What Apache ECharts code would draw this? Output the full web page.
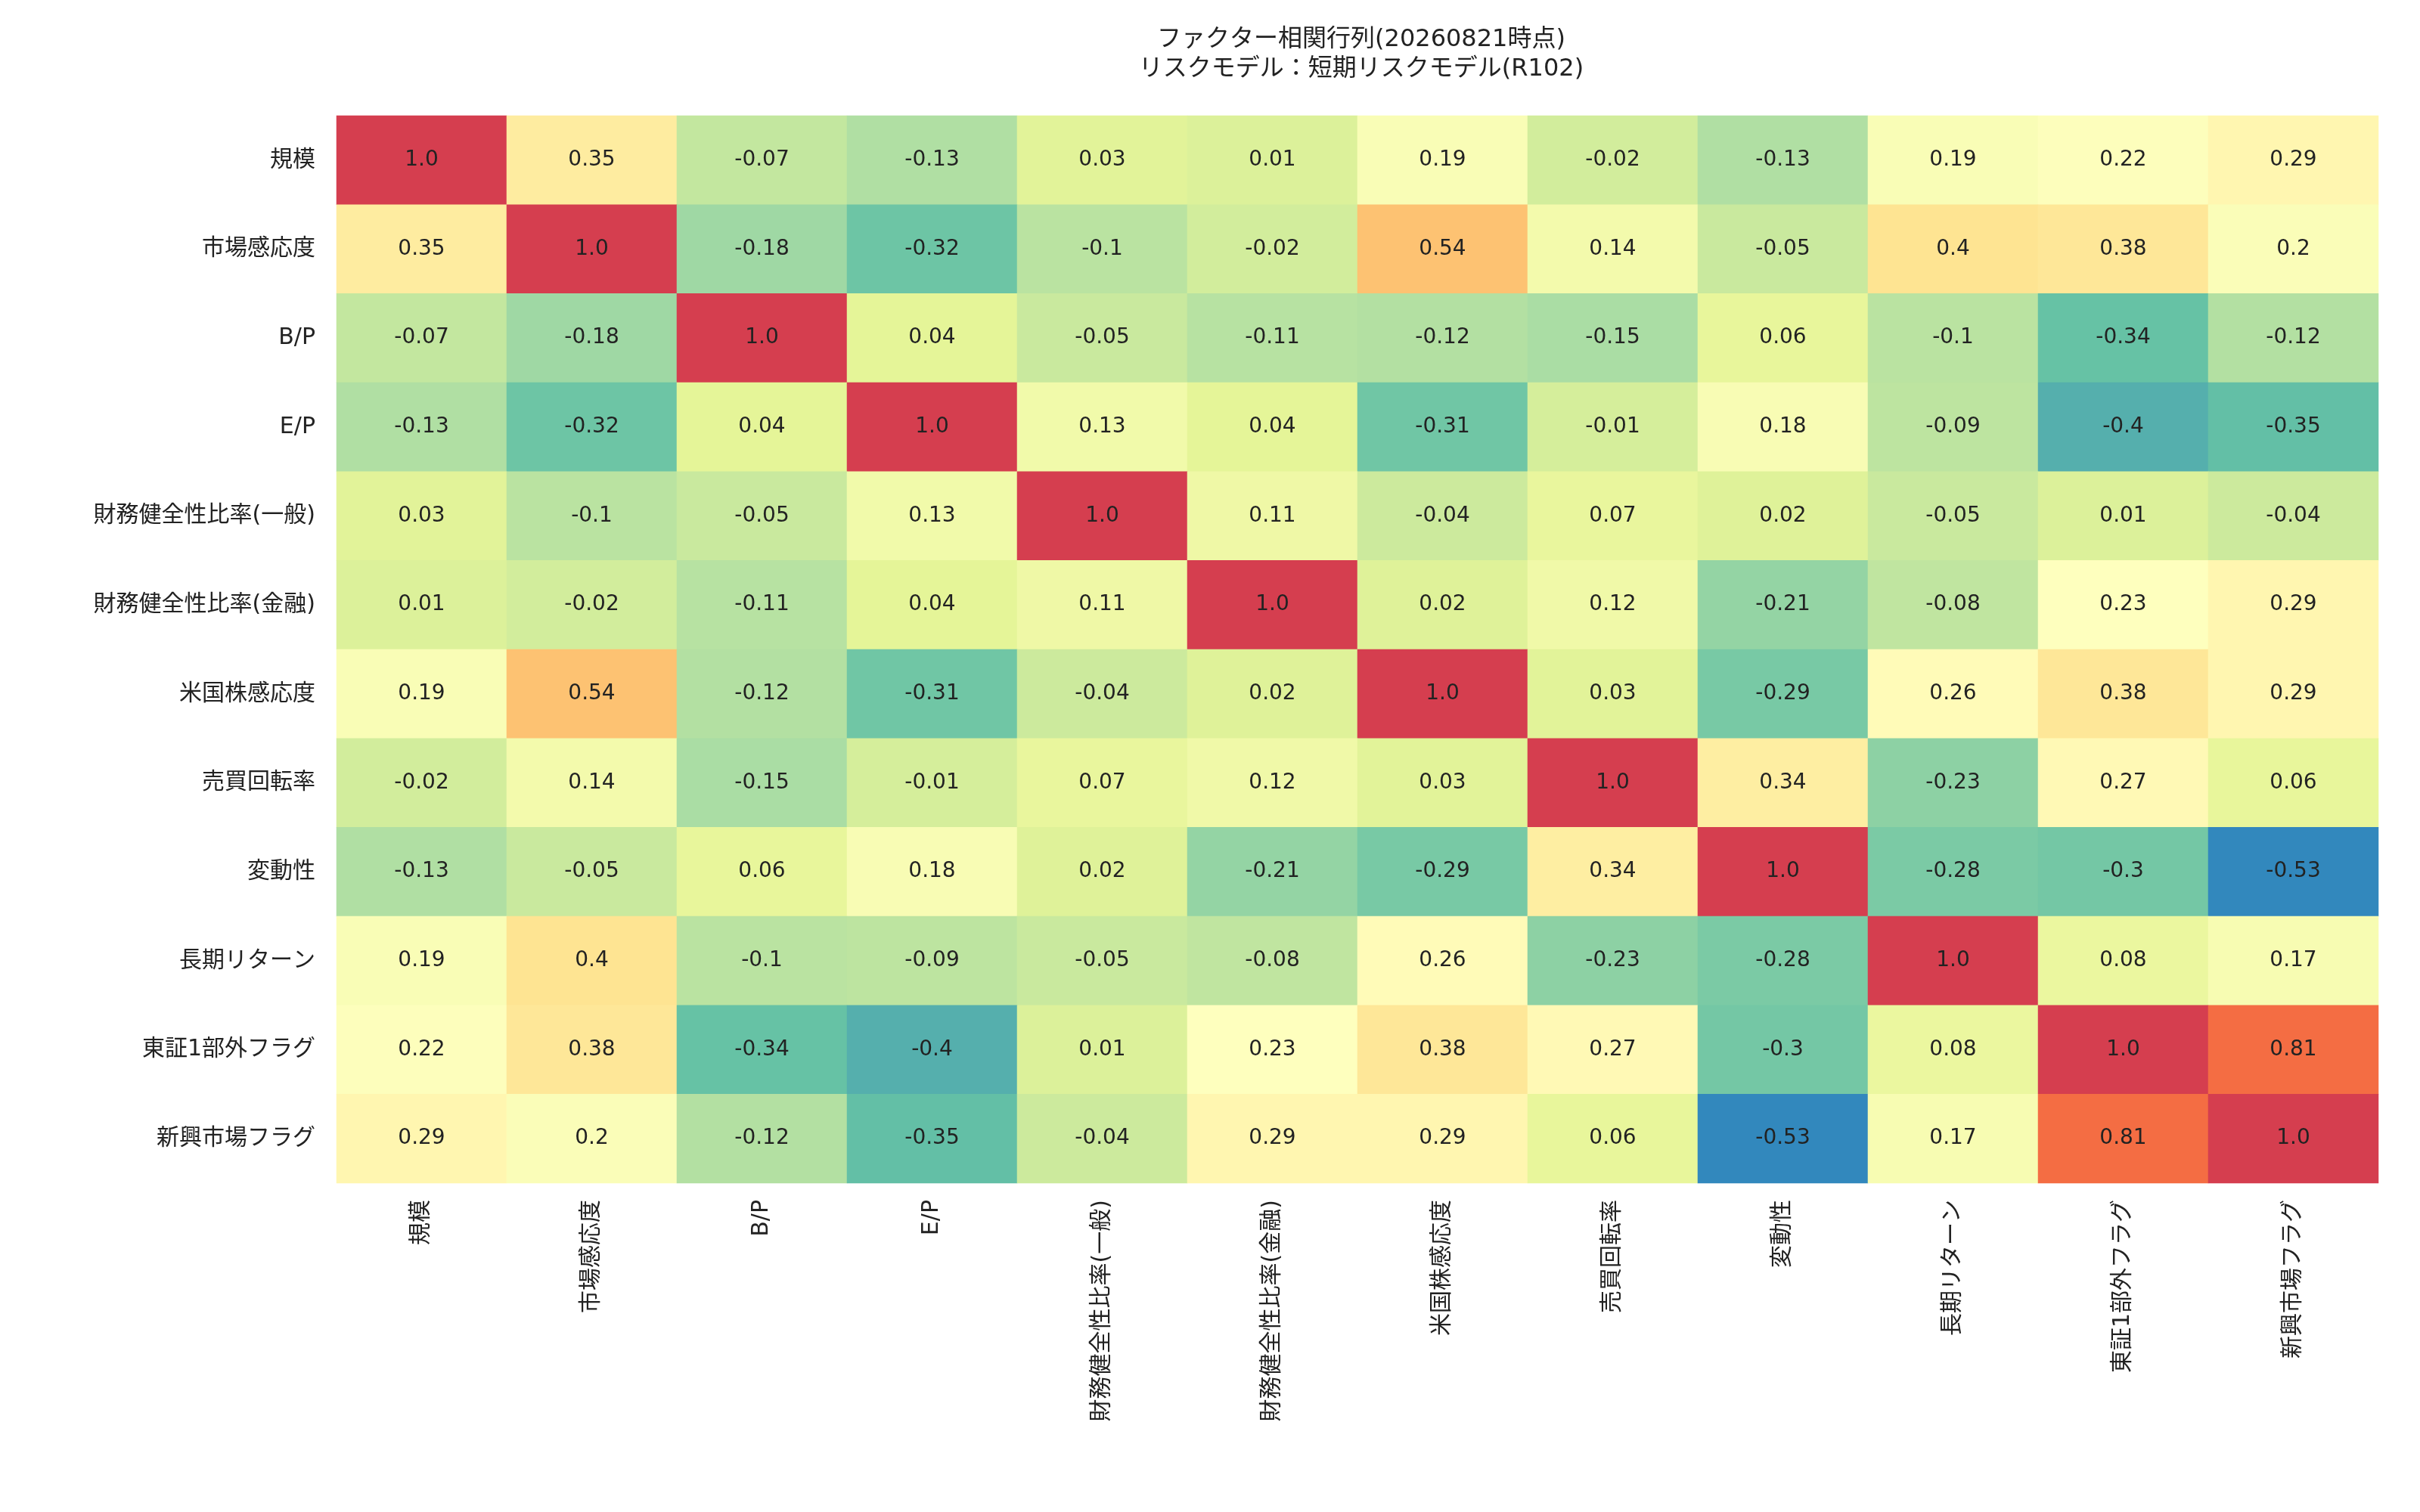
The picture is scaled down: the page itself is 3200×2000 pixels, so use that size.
<!DOCTYPE html>
<html><head><meta charset="utf-8">
<script src="https://cdn.jsdelivr.net/npm/echarts@6/dist/echarts.min.js"></script>
<style>html,body{margin:0;background:#fff}#c{width:3200px;height:2000px}</style>
</head><body><div id="c"></div>
<script>
const factors = ['規模','市場感応度','B/P','E/P','財務健全性比率(一般)','財務健全性比率(金融)','米国株感応度','売買回転率','変動性','長期リターン','東証1部外フラグ','新興市場フラグ'];
const r0 = [1.0,0.35,-0.07,-0.13,0.03,0.01,0.19,-0.02,-0.13,0.19,0.22,0.29];
const r1 = [0.35,1.0,-0.18,-0.32,-0.1,-0.02,0.54,0.14,-0.05,0.4,0.38,0.2];
const r2 = [-0.07,-0.18,1.0,0.04,-0.05,-0.11,-0.12,-0.15,0.06,-0.1,-0.34,-0.12];
const r3 = [-0.13,-0.32,0.04,1.0,0.13,0.04,-0.31,-0.01,0.18,-0.09,-0.4,-0.35];
const r4 = [0.03,-0.1,-0.05,0.13,1.0,0.11,-0.04,0.07,0.02,-0.05,0.01,-0.04];
const r5 = [0.01,-0.02,-0.11,0.04,0.11,1.0,0.02,0.12,-0.21,-0.08,0.23,0.29];
const r6 = [0.19,0.54,-0.12,-0.31,-0.04,0.02,1.0,0.03,-0.29,0.26,0.38,0.29];
const r7 = [-0.02,0.14,-0.15,-0.01,0.07,0.12,0.03,1.0,0.34,-0.23,0.27,0.06];
const r8 = [-0.13,-0.05,0.06,0.18,0.02,-0.21,-0.29,0.34,1.0,-0.28,-0.3,-0.53];
const r9 = [0.19,0.4,-0.1,-0.09,-0.05,-0.08,0.26,-0.23,-0.28,1.0,0.08,0.17];
const r10 = [0.22,0.38,-0.34,-0.4,0.01,0.23,0.38,0.27,-0.3,0.08,1.0,0.81];
const r11 = [0.29,0.2,-0.12,-0.35,-0.04,0.29,0.29,0.06,-0.53,0.17,0.81,1.0];
const rows = [r0,r1,r2,r3,r4,r5,r6,r7,r8,r9,r10,r11];
const data = [];
rows.forEach((r,i)=>r.forEach((v,j)=>data.push([j,i,v])));
const font = '"DejaVu Sans","Noto Sans CJK JP",sans-serif';
const chart = echarts.init(document.getElementById('c'));
chart.setOption({
  backgroundColor:'#fff',
  title:{text:'ファクター相関行列(20260821時点)\nリスクモデル：短期リスクモデル(R102)',left:1795,top:28,textAlign:'center',
    textStyle:{fontFamily:font,fontSize:32,fontWeight:'normal',color:'#222',lineHeight:39}},
  grid:{left:445,right:55,top:153,bottom:435},
  xAxis:{type:'category',data:factors,axisLine:{show:false},axisTick:{show:false},
    axisLabel:{rotate:90,fontFamily:font,fontSize:30,color:'#222',margin:22,interval:0}},
  yAxis:{type:'category',data:factors,inverse:true,axisLine:{show:false},axisTick:{show:false},
    axisLabel:{fontFamily:font,fontSize:30,color:'#222',margin:28,interval:0}},
  visualMap:{show:false,min:-0.53,max:1,calculable:false,
    inRange:{color:['#3288bd','#66c2a5','#abdda4','#e6f598','#ffffbf','#fee08b','#fdae61','#f46d43','#d53e4f']}},
  series:[{type:'heatmap',data:data,
    label:{show:true,fontFamily:font,fontSize:28,color:'#222',formatter:p=>{const v=p.value[2];return v===1?'1.0':String(v);}},
    itemStyle:{borderWidth:0}}]
});
</script></body></html>
